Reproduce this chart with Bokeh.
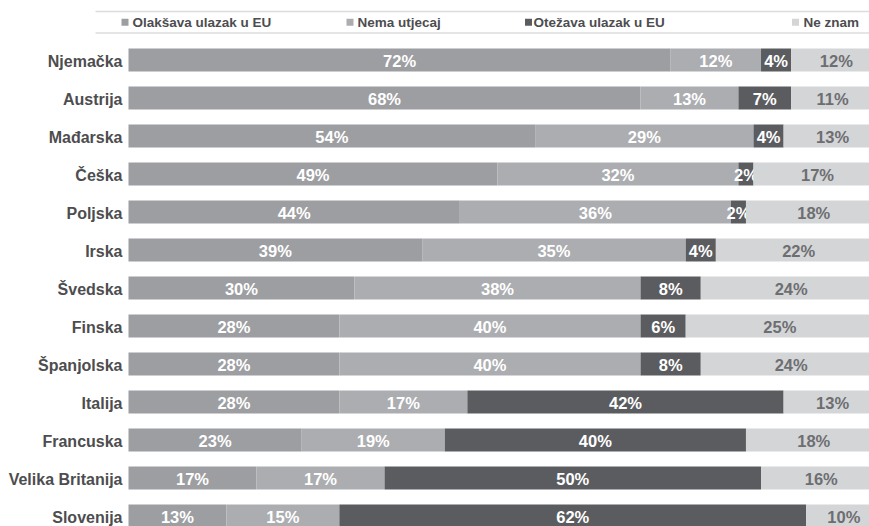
import numpy as np
from bokeh.plotting import figure
from bokeh.models import ColumnDataSource, Range1d
from bokeh.core.properties import value
from bokeh.embed import file_html
from bokeh.resources import INLINE

# ---------------- data ----------------
countries = ["Njemačka", "Austrija", "Mađarska", "Češka", "Poljska", "Irska",
             "Švedska", "Finska", "Španjolska", "Italija", "Francuska",
             "Velika Britanija", "Slovenija"]
olaksava = [72, 68, 54, 49, 44, 39, 30, 28, 28, 28, 23, 17, 13]
nema_utjecaj = [12, 13, 29, 32, 36, 35, 38, 40, 40, 17, 19, 17, 15]
otezava = [4, 7, 4, 2, 2, 4, 8, 6, 8, 42, 40, 50, 62]
ne_znam = [12, 11, 13, 17, 18, 22, 24, 25, 24, 13, 18, 16, 10]
series_names = ["Olakšava ulazak u EU", "Nema utjecaj", "Otežava ulazak u EU", "Ne znam"]

# ---------------- style ----------------
colors = ["#9d9ea1", "#acadb0", "#5b5c60", "#d4d5d7"]
label_colors = ["#ffffff", "#ffffff", "#ffffff", "#6d6e71"]
FONT = value("Liberation Sans")
TEXT_DARK = "#4d4d4f"

W, H = 869, 526
PX = 7.53          # pixels per percent
X0 = 128           # px where 0% sits
ROW = 38.0         # pixels per row
Y0 = 59.5          # px of first row centre


def xv(px):
    return (px - X0) / PX


def yv(py):
    return (py - Y0) / ROW


p = figure(width=W, height=H, output_backend="svg", toolbar_location=None,
           x_range=Range1d(xv(0), xv(W)), y_range=Range1d(yv(H), yv(0)),
           x_axis_location=None, y_axis_location=None, min_border=0,
           title=None)
p.grid.visible = False
p.outline_line_color = None
p.background_fill_color = "white"
p.border_fill_color = "white"

rows = np.arange(len(countries))
series = [olaksava, nema_utjecaj, otezava, ne_znam]
left = np.zeros(len(countries))
for vals, col, lcol in zip(series, colors, label_colors):
    vals = np.array(vals, dtype=float)
    right = left + vals
    src = ColumnDataSource(dict(y=rows, left=left, right=right,
                                mid=(left + right) / 2,
                                lab=[f"{int(v)}%" for v in vals]))
    p.hbar(y="y", left="left", right="right", height=23 / ROW, source=src,
           fill_color=col, line_color=None)
    p.text(x="mid", y="y", text="lab", source=src, text_align="center",
           text_baseline="middle", text_color=lcol, text_font=FONT,
           text_font_style="bold", text_font_size="16.5px", y_offset=1)
    left = right

# category labels
csrc = ColumnDataSource(dict(y=rows, x=[xv(122)] * len(countries), t=countries))
p.text(x="x", y="y", text="t", source=csrc, text_align="right",
       text_baseline="middle", text_color=TEXT_DARK, text_font=FONT,
       text_font_style="bold", text_font_size="16px", y_offset=1)

# legend (drawn manually to match positions)
p.segment(x0=[xv(95)] * 2, x1=[xv(W)] * 2, y0=[yv(11), yv(32.5)], y1=[yv(11), yv(32.5)],
          line_color="#dcdcdc", line_width=1.5)
sq_px = [124.5, 349.5, 528, 795]
tx_px = [132, 357, 533, 803]
p.scatter(x=[xv(v) for v in sq_px], y=[yv(21.8)] * 4, marker="square", size=7,
          fill_color=colors, line_color=None)
p.text(x=[xv(v) for v in tx_px], y=[yv(21.8)] * 4, text=series_names,
       text_align="left", text_baseline="middle", text_color=TEXT_DARK,
       text_font=FONT, text_font_style="bold", text_font_size="13.5px")

open("out.html", "w").write(file_html(p, INLINE))
